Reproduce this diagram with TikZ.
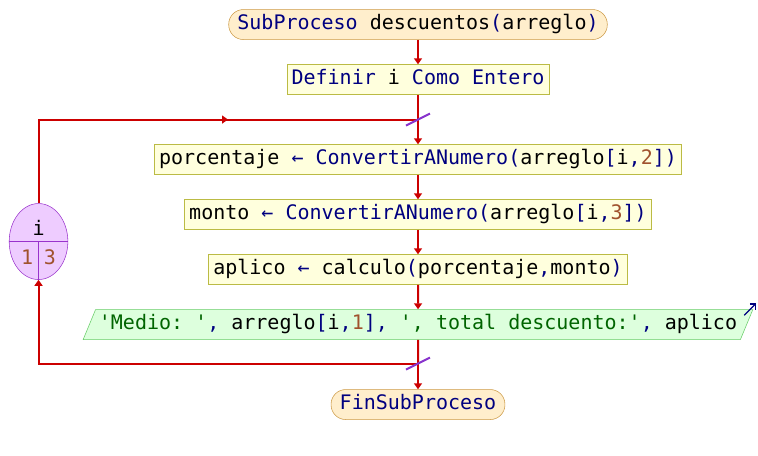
\documentclass[tikz,border=0pt]{standalone}
\usepackage{fontspec}
\setmonofont{DejaVu Sans Mono}
\usepackage{xcolor}
\usetikzlibrary{arrows.meta, positioning, shapes.geometric}
\usetikzlibrary{decorations.markings, decorations}

\definecolor{kwblue}{HTML}{000080}
\definecolor{numbrown}{HTML}{A0522D}
\definecolor{strgreen}{HTML}{006400}
\definecolor{flowred}{HTML}{CC0000}
\definecolor{cutpurple}{HTML}{8833CC}
\definecolor{termfill}{HTML}{FFEECC}
\definecolor{termdraw}{HTML}{CC9944}
\definecolor{procfill}{HTML}{FFFFDD}
\definecolor{procdraw}{HTML}{BBBB44}
\definecolor{outfill}{HTML}{DDFFDD}
\definecolor{outdraw}{HTML}{66CC66}
\definecolor{varfill}{HTML}{EECCFF}
\definecolor{vardraw}{HTML}{9933CC}

\newcommand{\pkw}[1]{\textcolor{kwblue}{#1}}
\newcommand{\pnum}[1]{\textcolor{numbrown}{#1}}
\newcommand{\pstr}[1]{\textcolor{strgreen}{#1}}

\begin{document}
\begin{tikzpicture}[node distance=41.25pt,on grid,>={Triangle[width=6pt,length=4.5pt]}]
    \tikzstyle{code}=[font=\ttfamily\fontsize{15}{18}\selectfont,text height=11pt,text depth=3.5pt,inner ysep=4pt]
    \tikzstyle{terminal}=[code,shape=rectangle,rounded corners=11pt,draw=termdraw,fill=termfill,inner xsep=6.5pt]
    \tikzstyle{process}=[code,shape=rectangle,draw=procdraw,fill=procfill,inner xsep=3.5pt]
    \tikzstyle{output}=[code,trapezium,trapezium left angle=67.5,trapezium right angle=112.5,draw=outdraw,fill=outfill,inner xsep=2.5pt]
    \tikzstyle{loopvar}=[ellipse,draw=vardraw,fill=varfill,minimum width=44pt,minimum height=57pt,inner sep=0pt]
    \tikzstyle{varlabel}=[font=\ttfamily\fontsize{15}{18}\selectfont,inner sep=0pt]
    \tikzstyle{flowline}=[color=flowred,line width=1.5pt]
    \tikzstyle{cut}=[color=cutpurple,line width=1.5pt]

    \useasboundingbox (0,0) rectangle (568.5pt,-341.25pt);

    \node[terminal] (start) at (313.5pt,-18.4pt) {\pkw{SubProceso} descuentos\pkw{(}arreglo\pkw{)}};
    \node[process, below of=start] (def) {\pkw{Definir} i \pkw{Como Entero}};
    \coordinate[below=30pt of def] (top);
    \node[process, below of=def, node distance=60pt] (porc) {porcentaje \pkw{←} \pkw{ConvertirANumero(}arreglo\pkw{[}i\pkw{,}\pnum{2}\pkw{])}};
    \node[process, below of=porc] (monto) {monto \pkw{←} \pkw{ConvertirANumero(}arreglo\pkw{[}i\pkw{,}\pnum{3}\pkw{])}};
    \node[process, below of=monto] (aplico) {aplico \pkw{←} calculo\pkw{(}porcentaje\pkw{,}monto\pkw{)}};
    \node[output, below of=aplico] (out) {\pstr{'Medio: '}\pkw{,} arreglo\pkw{[}i\pkw{,}\pnum{1}\pkw{]}\pkw{,} \pstr{', total descuento:'}\pkw{,} aplico};
    \coordinate[below=29.25pt of out] (bot);
    \node[terminal, below of=out, node distance=60pt] (fin) {\pkw{FinSubProceso}};

    % contador del ciclo
    \node[loopvar] (var) at ([shift={(-284.6pt,-91.5pt)}]top) {};
    \node[varlabel] (varname) at ([yshift=10pt]var.center) {i};
    \node[varlabel] (varfrom) at ([shift={(-8.6pt,-12pt)}]var.center) {\pnum{1}};
    \node[varlabel] (varto) at ([shift={(8.6pt,-12pt)}]var.center) {\pnum{3}};
    \draw[vardraw] (var.west) -- (var.east);
    \draw[vardraw] (var.center) -- (var.south);

    \path[->,flowline]
    (start) edge node {} (def)
    (top) edge node {} (porc)
    (porc) edge node {} (monto)
    (monto) edge node {} (aplico)
    (aplico) edge node {} (out)
    (bot) edge node {} (fin)
    ;
    \path[flowline]
    (def) edge node {} (top)
    (out) edge node {} (bot)
    ;
    \draw[flowline, postaction={decorate}, decoration={markings,
        mark=at position -142.5pt with {\arrow[flowred]{>}}}] (var.north) |- (top);
    \draw[->, flowline] (bot) -| (var.south);

    \draw[cut] ([shift={(-9pt,-4.5pt)}]top) -- ([shift={(9pt,4.5pt)}]top);
    \draw[cut] ([shift={(-9pt,-4.5pt)}]bot) -- ([shift={(9pt,4.5pt)}]bot);
    \draw[->, kwblue, line width=1pt, >={Straight Barb[length=3pt]}]
        ([shift={(-6.75pt,-4.5pt)}]out.top right corner) -- ([shift={(2.25pt,4.5pt)}]out.top right corner);
\end{tikzpicture}
\end{document}
